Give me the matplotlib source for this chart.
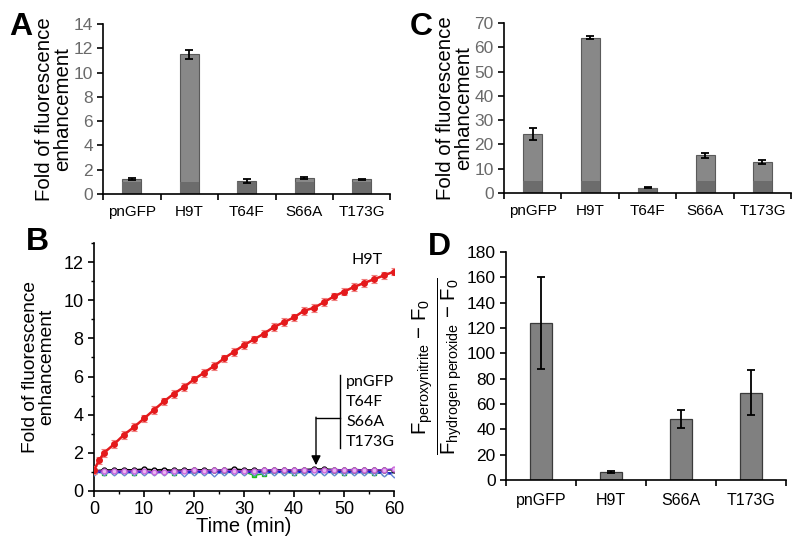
import numpy as np
import matplotlib
matplotlib.use("Agg")
import matplotlib.pyplot as plt
from matplotlib.ticker import MultipleLocator

plt.rcParams['font.family'] = ['Liberation Sans', 'DejaVu Sans']
plt.rcParams['mathtext.fontset'] = 'custom'
plt.rcParams['mathtext.rm'] = 'Liberation Sans'
plt.rcParams['mathtext.it'] = 'Liberation Sans'

# panel A
cats_a = ['pnGFP', 'H9T', 'T64F', 'S66A', 'T173G']
vals_a = [1.2, 11.5, 1.05, 1.3, 1.2]
errs_a = [0.08, 0.35, 0.15, 0.07, 0.07]

# panel C
cats_c = ['pnGFP', 'H9T', 'T64F', 'S66A', 'T173G']
vals_c = [24.3, 64.0, 2.2, 15.5, 12.8]
errs_c = [2.6, 0.7, 0.3, 1.0, 0.8]

# panel D
cats_d = ['pnGFP', 'H9T', 'S66A', 'T173G']
vals_d = [124, 6, 48, 69]
errs_d = [36, 0.8, 7, 18]

# panel B - time course
t_h9t = [0, 1, 2, 4, 6, 8, 10, 12, 14, 16, 18, 20, 22, 24, 26, 28, 30,
         32, 34, 36, 38, 40, 42, 44, 46, 48, 50, 52, 54, 56, 58, 60]
v_h9t = [1.1, 1.6, 2.0, 2.45, 2.95, 3.35, 3.8, 4.25, 4.7, 5.1, 5.45, 5.85,
         6.2, 6.55, 6.95, 7.3, 7.65, 7.95, 8.25, 8.6, 8.85, 9.1, 9.45, 9.6,
         9.9, 10.2, 10.45, 10.7, 10.9, 11.1, 11.3, 11.5]
t_low = [0, 2, 4, 6, 8, 10, 12, 14, 16, 18, 20, 22, 24, 26, 28, 30,
         32, 34, 36, 38, 40, 42, 44, 46, 48, 50, 52, 54, 56, 58, 60]
v_pngfp = [1.05, 1.1, 1.1, 1.12, 1.1, 1.15, 1.1, 1.12, 1.08, 1.1, 1.12, 1.1,
           1.08, 1.1, 1.15, 1.1, 1.1, 1.08, 1.12, 1.1, 1.1, 1.12, 1.15, 1.15,
           1.12, 1.1, 1.12, 1.1, 1.1, 1.1, 1.12]
v_t64f = [1.0, 0.95, 1.0, 1.0, 0.95, 1.0, 0.98, 1.0, 0.95, 1.0, 1.0, 1.0,
          1.0, 1.0, 0.98, 1.0, 0.82, 0.9, 1.0, 1.0, 0.92, 1.0, 1.0, 1.0,
          1.0, 0.95, 1.0, 1.0, 0.92, 0.95, 0.95]
v_s66a = [1.0, 1.0, 1.0, 0.98, 1.0, 1.0, 0.98, 1.0, 1.0, 0.95, 1.0, 1.0,
          0.95, 1.0, 1.0, 1.0, 1.0, 0.98, 1.0, 1.0, 1.0, 1.0, 1.0, 1.0,
          1.0, 1.0, 0.98, 1.0, 1.0, 0.95, 0.9]
v_t173g = [1.05, 1.05, 1.05, 1.05, 1.05, 1.05, 1.0, 1.0, 1.05, 1.05, 1.1,
           1.05, 1.08, 1.1, 1.05, 1.05, 1.05, 1.12, 1.1, 1.08, 1.12, 1.1,
           1.1, 1.1, 1.12, 1.1, 1.12, 1.1, 1.1, 1.12, 1.15]
low_labels = ['pnGFP', 'T64F', 'S66A', 'T173G']

fig = plt.figure(figsize=(8, 5.37), dpi=100)

ax_a = fig.add_axes([0.129, 0.6387, 0.359, 0.3166])
ax_c = fig.add_axes([0.630, 0.6406, 0.359, 0.3166])
ax_b = fig.add_axes([0.1175, 0.0857, 0.375, 0.4618])
ax_d = fig.add_axes([0.6325, 0.1061, 0.35, 0.4246])


def bar_panel(ax, cats, vals, errs, ymax, ystep, base, tick_color):
    x = np.arange(len(cats))
    ax.bar(x, vals, width=0.33, color='#888888', edgecolor='#5a5a5a',
           linewidth=0.8, zorder=2)
    # darker baseline overlay
    ax.bar(x, [min(v, base) for v in vals], width=0.33, color='#6c6c6c',
           edgecolor='none', zorder=2)
    ax.errorbar(x, vals, yerr=errs, fmt='none', ecolor='black',
                elinewidth=1.3, capsize=3, capthick=1.3, zorder=3)
    ax.set_xlim(-0.5, len(cats) - 0.5)
    ax.set_ylim(0, ymax)
    ax.set_yticks(np.arange(0, ymax + 0.1, ystep))
    ax.set_xticks(x)
    ax.set_xticklabels(cats, fontsize=11)
    ax.set_xticks(np.arange(-0.5, len(cats), 1), minor=True)
    ax.tick_params(axis='x', which='major', length=0, pad=8)
    ax.tick_params(axis='x', which='minor', length=4, width=1.2, direction='out')
    ax.tick_params(axis='y', length=4, width=1.2, direction='out',
                   labelsize=12.5, labelcolor=tick_color)
    for s in ['top', 'right']:
        ax.spines[s].set_visible(False)
    for s in ['left', 'bottom']:
        ax.spines[s].set_linewidth(1.2)
    ax.set_ylabel('Fold of fluorescence\nenhancement', fontsize=14.7,
                  linespacing=0.95, labelpad=1)


bar_panel(ax_a, cats_a, vals_a, errs_a, 14, 2, 1.0, '#6a6a6a')
bar_panel(ax_c, cats_c, vals_c, errs_c, 70, 10, 5.0, '#6a6a6a')

# panel D
xd = np.arange(len(cats_d))
ax_d.bar(xd, vals_d, width=0.31, color='#808080', edgecolor='#3a3a3a',
         linewidth=0.9, zorder=2)
ax_d.errorbar(xd, vals_d, yerr=errs_d, fmt='none', ecolor='black',
              elinewidth=1.3, capsize=3, capthick=1.3, zorder=3)
ax_d.set_xlim(-0.5, len(cats_d) - 0.5)
ax_d.set_ylim(0, 180)
ax_d.set_yticks(np.arange(0, 181, 20))
ax_d.set_xticks(xd)
ax_d.set_xticklabels(cats_d, fontsize=11.5)
ax_d.set_xticks(np.arange(-0.5, len(cats_d), 1), minor=True)
ax_d.tick_params(axis='x', which='major', length=0, pad=9)
ax_d.tick_params(axis='x', which='minor', length=4, width=1.2, direction='out')
ax_d.tick_params(axis='y', length=4, width=1.2, direction='out', labelsize=12.5)
for s in ['top', 'right']:
    ax_d.spines[s].set_visible(False)
for s in ['left', 'bottom']:
    ax_d.spines[s].set_linewidth(1.2)
ax_d.set_ylabel(r'$\frac{\mathrm{F_{peroxynitrite}\ {-}\ F_0}}'
                r'{\mathrm{F_{hydrogen\ peroxide}\ {-}\ F_0}}$',
                fontsize=21, labelpad=2)

# panel B
ax_b.errorbar(t_h9t, v_h9t, yerr=0.2, color='#e41a1c', marker='o',
              markersize=4, linewidth=1.8, ecolor='#f08080', elinewidth=0.8,
              capsize=2.5, capthick=0.8, zorder=4)
ax_b.errorbar(t_low, v_t64f, yerr=0.04, color='#22bb22', marker='s',
              markersize=3.5, mfc='#33dd33', linewidth=1.0, ecolor='#66cc66',
              elinewidth=0.6, capsize=1.5, zorder=3)
ax_b.errorbar(t_low, v_s66a, yerr=0.05, color='#1a1acc', marker='D',
              markersize=3.5, mfc='white', mec='#6a8ad8', linewidth=1.8,
              ecolor='#6a6ae0', elinewidth=0.6, capsize=1.5, zorder=3)
ax_b.errorbar(t_low, v_pngfp, yerr=0.03, color='black', marker='o',
              markersize=3.5, mfc='white', linewidth=1.2, ecolor='#444444',
              elinewidth=0.6, capsize=1.5, zorder=3)
ax_b.errorbar(t_low, v_t173g, yerr=0.04, color='#8833cc', marker='o',
              markersize=3.5, mfc='#e8b8f0', mec='#cc66dd', linewidth=1.0,
              ecolor='#cc88dd', elinewidth=0.6, capsize=1.5, zorder=3)
ax_b.set_xlim(0, 60)
ax_b.set_ylim(0, 13)
ax_b.xaxis.set_major_locator(MultipleLocator(10))
ax_b.xaxis.set_minor_locator(MultipleLocator(5))
ax_b.yaxis.set_major_locator(MultipleLocator(2))
ax_b.yaxis.set_minor_locator(MultipleLocator(1))
ax_b.tick_params(which='major', length=4, width=1.2, direction='out', labelsize=13)
ax_b.tick_params(which='minor', length=2.5, width=1.0, direction='out')
for s in ['top', 'right']:
    ax_b.spines[s].set_visible(False)
for s in ['left', 'bottom']:
    ax_b.spines[s].set_linewidth(1.2)
ax_b.set_xlabel('Time (min)', fontsize=14.5, labelpad=-1)
ax_b.set_ylabel('Fold of fluorescence\nenhancement', fontsize=13.8,
                linespacing=0.95, labelpad=6)

# annotations in B
ax_b.text(51.5, 12.1, 'H9T', fontsize=11.5, family=['Lato', 'DejaVu Sans'],
          ha='left', va='center')
ax_b.plot([49.2, 49.2], [2.25, 6.1], color='black', lw=1.0)
ax_b.plot([44.4, 49.2], [3.85, 3.85], color='black', lw=1.0)
ax_b.annotate('', xy=(44.4, 1.35), xytext=(44.4, 3.87),
              arrowprops=dict(arrowstyle='-|>', color='black', lw=1.0,
                              mutation_scale=14, shrinkA=0, shrinkB=0))
for lab, yy in zip(low_labels, [5.7, 4.65, 3.6, 2.55]):
    ax_b.text(50.4, yy, lab, fontsize=11.5, family=['Lato', 'DejaVu Sans'],
              ha='left', va='center')

# panel letters
for lab, xx, yy in [('A', 0.012, 0.978), ('C', 0.512, 0.978),
                    ('B', 0.032, 0.578), ('D', 0.535, 0.568)]:
    fig.text(xx, yy, lab, fontsize=23, fontweight='bold', ha='left', va='top')

fig.savefig('out.png', dpi=100)
